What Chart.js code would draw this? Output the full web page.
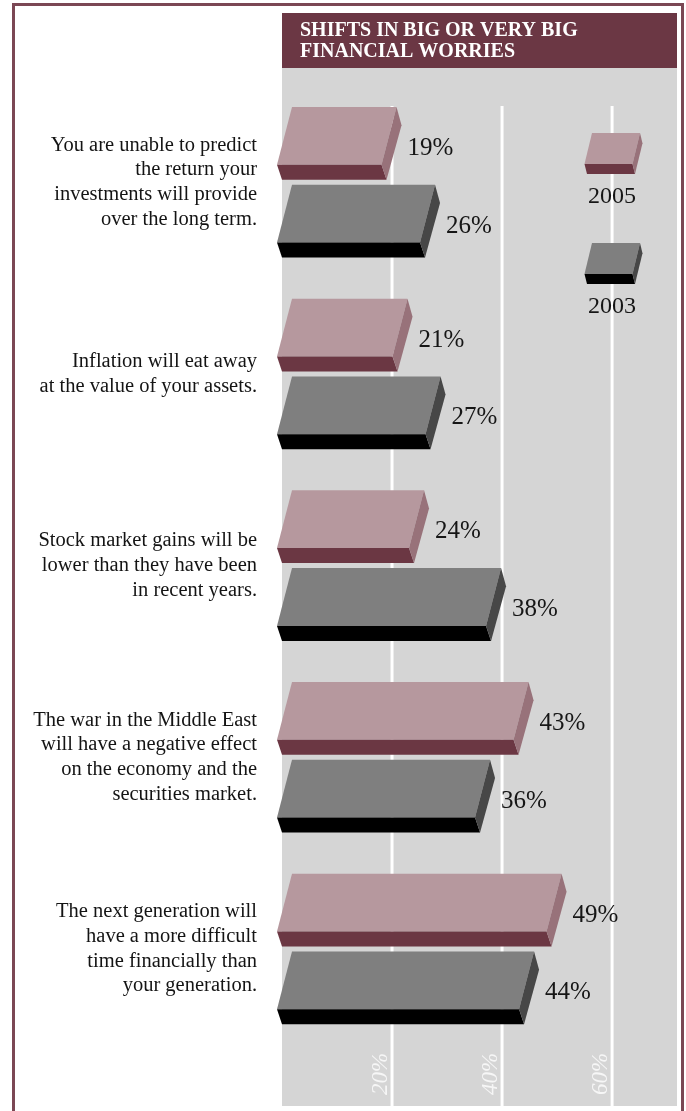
<!DOCTYPE html>
<html>
<head>
<meta charset="utf-8">
<script src="https://cdn.jsdelivr.net/npm/chart.js@4.4.0/dist/chart.umd.min.js"></script>
<style>
  html, body { margin: 0; padding: 0; background: #fff; }
  #wrap { position: relative; width: 686px; height: 1111px; overflow: hidden; }
  #frame { position: absolute; left: 12px; top: 3px; width: 672px; height: 1200px; border: 3px solid #7b4754; box-sizing: border-box; }
  canvas { position: absolute; left: 0; top: 0; }
</style>
</head>
<body>
<div id="wrap">
  <div id="frame"></div>
  <canvas id="chart" width="686" height="1111"></canvas>
</div>
<script>
const title = ["SHIFTS IN BIG OR VERY BIG", "FINANCIAL WORRIES"];
const worries = [
    ["You are unable to predict", "the return your", "investments will provide", "over the long term."],
    ["Inflation will eat away", "at the value of your assets."],
    ["Stock market gains will be", "lower than they have been", "in recent years."],
    ["The war in the Middle East", "will have a negative effect", "on the economy and the", "securities market."],
    ["The next generation will", "have a more difficult", "time financially than", "your generation."]
];
const years = ["2005", "2003"];
const shares2005 = [19, 21, 24, 43, 49];
const shares2003 = [26, 27, 38, 36, 44];
const gridTicks = [20, 40, 60];

// colours of the three visible faces of each block
const faces = [
    { top: "#b6989e", band: "#6b3743", side: "#98727a" },
    { top: "#7f7f7f", band: "#000000", side: "#474747" }
];

function poly(ctx, pts, color) {
    ctx.fillStyle = color;
    ctx.beginPath();
    ctx.moveTo(pts[0][0], pts[0][1]);
    for (let i = 1; i < pts.length; i++) ctx.lineTo(pts[i][0], pts[i][1]);
    ctx.closePath();
    ctx.fill();
}

// a flat box seen from slightly above: light top, dark front band, shaded right side
function drawBlock(ctx, x0, x1, top, h, band, lean, c) {
    const mid = top + h - band, bot = top + h;
    const back = lean / 2;
    poly(ctx, [[x0 + lean, top], [x1 + lean, top], [x1 - back, mid], [x0 - back, mid]], c.top);
    poly(ctx, [[x0 - back, mid], [x1 - back, mid], [x1, bot], [x0, bot]], c.band);
    poly(ctx, [[x1 + lean, top], [x1 + lean + back, top + h * 0.25], [x1, bot], [x1 - back, mid]], c.side);
}

const backdrop = {
    id: "backdrop",
    beforeDraw(chart) {
        const ctx = chart.ctx;
        const xs = chart.scales.x;
        const left = xs.getPixelForValue(0);
        const right = chart.chartArea.right;
        ctx.save();
        ctx.fillStyle = "#d5d5d5";
        ctx.fillRect(left, 68, right - left, 1106 - 68);
        ctx.fillStyle = "#6b3744";
        ctx.fillRect(left, 13, right - left, 55);

        ctx.fillStyle = "#ffffff";
        ctx.font = "bold 20px 'Liberation Serif', serif";
        ctx.textBaseline = "alphabetic";
        title.forEach((t, i) => ctx.fillText(t, left + 18, 36 + i * 21));

        ctx.strokeStyle = "#ffffff";
        ctx.lineWidth = 3;
        gridTicks.forEach(v => {
            const gx = xs.getPixelForValue(v);
            ctx.beginPath();
            ctx.moveTo(gx, 106);
            ctx.lineTo(gx, 1106);
            ctx.stroke();
        });

        ctx.fillStyle = "#f6f6f6";
        ctx.font = "italic 23px 'Liberation Serif', serif";
        gridTicks.forEach(v => {
            const gx = xs.getPixelForValue(v);
            ctx.save();
            ctx.translate(gx - 5, 1095);
            ctx.rotate(-Math.PI / 2);
            ctx.textAlign = "left";
            ctx.fillText(v + "%", 0, 0);
            ctx.restore();
        });
        ctx.restore();
    }
};

const blocks = {
    id: "blocks",
    afterDatasetsDraw(chart) {
        const ctx = chart.ctx;
        ctx.save();
        chart.data.datasets.forEach((ds, i) => {
            const meta = chart.getDatasetMeta(i);
            meta.data.forEach((bar, j) => {
                const p = bar.getProps(["x", "y", "base", "height"], true);
                const top = p.y - p.height / 2;
                drawBlock(ctx, p.base, p.x, top, p.height, 15, 10, faces[i]);
                ctx.fillStyle = "#161616";
                ctx.font = "25px 'Liberation Serif', serif";
                ctx.textAlign = "left";
                ctx.textBaseline = "alphabetic";
                ctx.fillText(ds.data[j] + "%", p.x + 21, p.y + 11.5);
            });

            // legend swatch and year
            const ly = 133 + i * 110;
            drawBlock(ctx, 587, 635, ly, 41, 10, 5, faces[i]);
            ctx.fillStyle = "#161616";
            ctx.font = "24px 'Liberation Serif', serif";
            ctx.textAlign = "center";
            ctx.fillText(ds.label, 612, ly + 70);
        });
        ctx.restore();
    }
};

new Chart(document.getElementById("chart"), {
    type: "bar",
    data: {
        labels: worries,
        datasets: [
            { label: years[0], data: shares2005, backgroundColor: "rgba(0,0,0,0)" },
            { label: years[1], data: shares2003, backgroundColor: "rgba(0,0,0,0)" }
        ]
    },
    options: {
        indexAxis: "y",
        responsive: false,
        animation: false,
        categoryPercentage: 0.8115,
        barPercentage: 0.936,
        layout: { padding: { top: 86.4, right: 9, bottom: 63.4, left: 0 } },
        plugins: { legend: { display: false }, tooltip: { enabled: false } },
        scales: {
            x: { display: false, min: 0, max: 71.8 },
            y: {
                grid: { display: false },
                border: { display: false },
                ticks: {
                    color: "#141414",
                    padding: 17,
                    font: { family: "'Liberation Serif', serif", size: 20.5, lineHeight: 1.2 }
                },
                afterFit(scale) { scale.width = 282; }
            }
        }
    },
    plugins: [backdrop, blocks]
});
</script>
</body>
</html>
